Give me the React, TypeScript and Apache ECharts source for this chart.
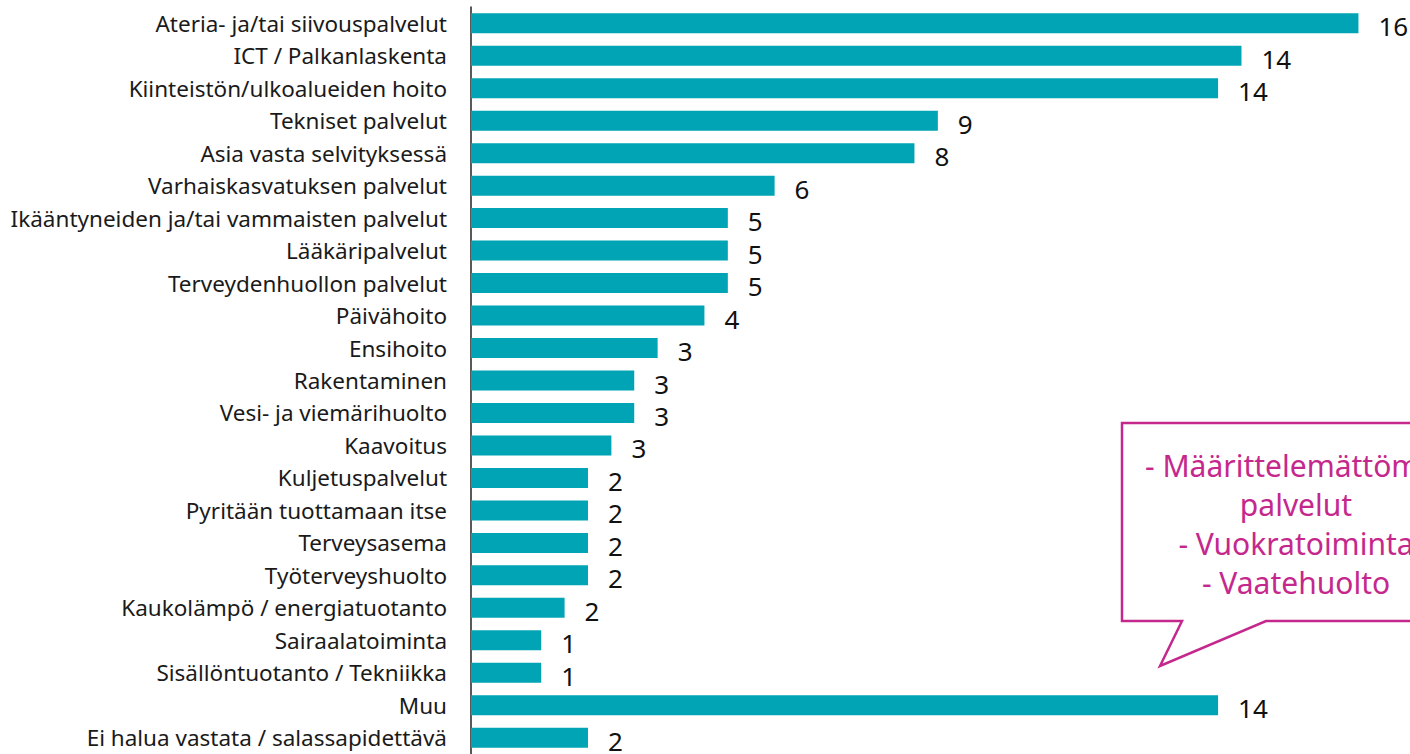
import React, { useEffect, useRef } from "react";
import * as echarts from "echarts";

const categories: string[] = [
  "Ateria- ja/tai siivouspalvelut",
  "ICT / Palkanlaskenta",
  "Kiinteistön/ulkoalueiden hoito",
  "Tekniset palvelut",
  "Asia vasta selvityksessä",
  "Varhaiskasvatuksen palvelut",
  "Ikääntyneiden ja/tai vammaisten palvelut",
  "Lääkäripalvelut",
  "Terveydenhuollon palvelut",
  "Päivähoito",
  "Ensihoito",
  "Rakentaminen",
  "Vesi- ja viemärihuolto",
  "Kaavoitus",
  "Kuljetuspalvelut",
  "Pyritään tuottamaan itse",
  "Terveysasema",
  "Työterveyshuolto",
  "Kaukolämpö / energiatuotanto",
  "Sairaalatoiminta",
  "Sisällöntuotanto / Tekniikka",
  "Muu",
  "Ei halua vastata / salassapidettävä",
];

// percentage values (labels show rounded values)
const values: number[] = [
  16.31, 14.16, 13.73, 8.58, 8.15, 5.58, 4.72, 4.72, 4.72, 4.29, 3.43, 3.0,
  3.0, 2.58, 2.15, 2.15, 2.15, 2.15, 1.72, 1.29, 1.29, 13.73, 2.15,
];

const calloutLines: string[] = [
  "- Määrittelemättömät",
  "palvelut",
  "- Vuokratoiminta",
  "- Vaatehuolto",
];

const FONT = "'Noto Sans', 'Open Sans', sans-serif";
const MAGENTA = "#C5288C";

export default function App() {
  const ref = useRef<HTMLDivElement>(null);
  useEffect(() => {
    document.body.style.margin = "0";
    const chart = echarts.init(ref.current!, undefined, { renderer: "svg" });
    chart.setOption({
      animation: false,
      backgroundColor: "#ffffff",
      grid: { left: 471, top: 7, width: 925, height: 750, containLabel: false },
      xAxis: {
        type: "value",
        min: 0,
        max: 17,
        show: false,
        splitLine: { show: false },
      },
      yAxis: {
        type: "category",
        data: categories,
        inverse: true,
        axisLine: { show: true, lineStyle: { color: "#222222", width: 1.5 } },
        axisTick: { show: false },
        axisLabel: {
          color: "#1a1a1a",
          fontSize: 22.5,
          fontFamily: FONT,
          margin: 24,
        },
      },
      series: [
        {
          type: "bar",
          data: values,
          barWidth: 20,
          itemStyle: { color: "#00A4B4" },
          label: {
            show: true,
            position: "right",
            distance: 20,
            offset: [0, 3],
            color: "#111111",
            fontSize: 26,
            fontFamily: FONT,
            formatter: (p: any) => String(Math.round(p.value)),
          },
        },
      ],
      graphic: [
        {
          type: "polygon",
          shape: {
            points: [
              [1122, 423],
              [1470, 423],
              [1470, 621],
              [1266, 621],
              [1160, 666],
              [1182, 621],
              [1122, 621],
            ],
          },
          style: { fill: "#ffffff", stroke: MAGENTA, lineWidth: 2.5 },
          z: 10,
        },
        ...calloutLines.map((t, i) => ({
          type: "text",
          x: 1296,
          y: 465 + i * 39,
          z: 11,
          style: {
            text: t,
            fill: MAGENTA,
            fontSize: 30,
            fontFamily: FONT,
            textAlign: "center",
            textVerticalAlign: "middle",
          },
        })),
      ],
    });
    return () => chart.dispose();
  }, []);
  return <div ref={ref} style={{ width: 1410, height: 754 }} />;
}
